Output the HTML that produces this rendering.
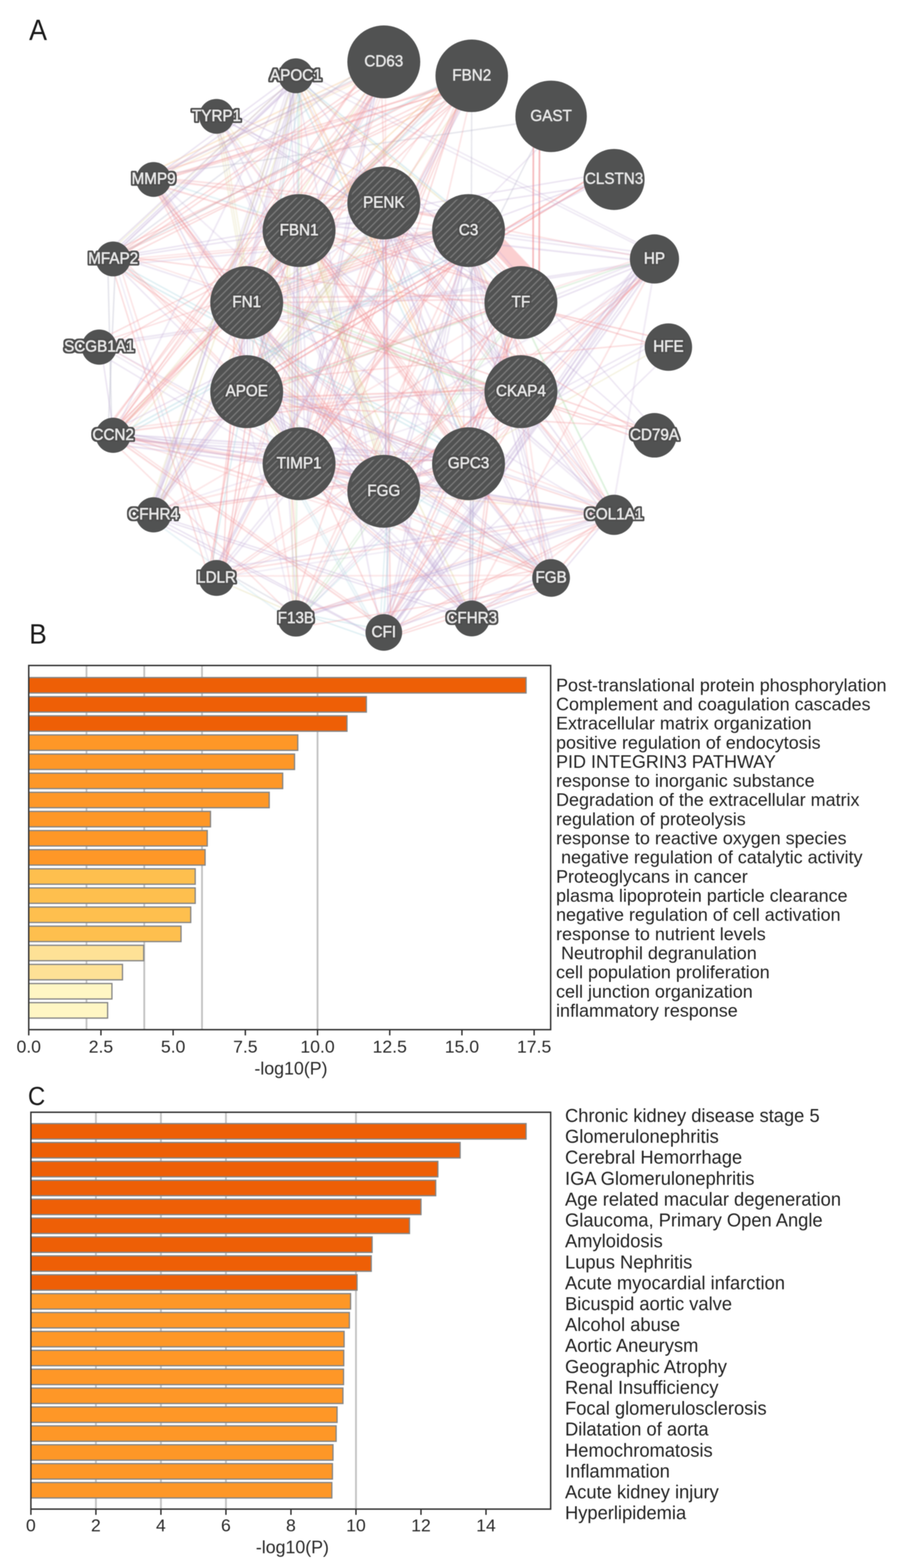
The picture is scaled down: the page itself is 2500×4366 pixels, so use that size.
<!DOCTYPE html>
<html lang="en">
<head>
<meta charset="utf-8">
<title>Figure: PPI network and enrichment analysis</title>
<style>
html,body{margin:0;padding:0;background:#fff;}
body{width:2500px;height:4366px;font-family:"Liberation Sans",sans-serif;}
#fig{position:relative;width:2500px;height:4366px;background:#fff;overflow:hidden;}
svg{position:absolute;left:0;top:0;display:block;filter:blur(1px);}
text{font-family:"Liberation Sans",sans-serif;}
.pl{font-size:77px;fill:#1a1a1a;}
.nl{font-size:43.5px;fill:#e6e6e6;stroke:#e6e6e6;stroke-width:1.25px;text-anchor:middle;}
.nli{font-size:43.5px;fill:#e6e6e6;stroke:#e6e6e6;stroke-width:1.25px;text-anchor:middle;filter:url(#ol);}
.nlo{font-size:43.5px;fill:#e6e6e6;stroke:#e6e6e6;stroke-width:1.25px;text-anchor:middle;filter:url(#ol);}
.tk{font-size:49px;fill:#2a2a2a;text-anchor:middle;}
.ax{font-size:49.5px;fill:#2a2a2a;text-anchor:middle;}
.lb{font-size:50px;fill:#222;}
.lc{font-size:51px;fill:#222;}
.bar{stroke:#858585;stroke-width:3.5px;}
.grid{stroke:#c3c3c3;stroke-width:5px;}
.frame{fill:none;stroke:#333;stroke-width:4px;}
.tick{stroke:#333;stroke-width:4px;}
</style>
</head>
<body>
<div id="fig">
<svg width="2500" height="4366" viewBox="0 0 2500 4366">
<defs>
<pattern id="hatch" width="14.5" height="14.5" patternUnits="userSpaceOnUse" patternTransform="rotate(-45)">
<rect width="14.5" height="14.5" fill="#515252"/>
<rect x="0" y="0" width="14.5" height="3.8" fill="#777777"/>
</pattern>
<filter id="ol" x="-15%" y="-35%" width="130%" height="170%">
<feMorphology in="SourceAlpha" operator="dilate" radius="3.9" result="d"/>
<feGaussianBlur in="d" stdDeviation="1.8" result="b"/>
<feComponentTransfer in="b" result="t"><feFuncA type="linear" slope="6" intercept="-1.5"/></feComponentTransfer>
<feFlood flood-color="#4d4e4e" result="f"/>
<feComposite in="f" in2="t" operator="in" result="o"/>
<feMerge><feMergeNode in="o"/><feMergeNode in="SourceGraphic"/></feMerge>
</filter>
<filter id="soft" x="-5%" y="-5%" width="110%" height="110%"><feGaussianBlur stdDeviation="0.8"/></filter>
</defs>

<g id="panelA">
<text class="pl" transform="translate(81 111.3) scale(0.925 1)" style="font-size:81px">A</text>
<g id="edges" fill="none" stroke-linecap="round" filter="url(#soft)">
<line x1="1363" y1="656" x2="1473" y2="772" stroke="#fbcfd0" stroke-width="46" stroke-opacity="1.0" stroke-linecap="butt"/>
<line x1="1040.7" y1="568.1" x2="1334.4" y2="618.9" stroke="#f08d91" stroke-width="3.6" stroke-opacity="0.27"/>
<line x1="1038.7" y1="574.2" x2="1332.9" y2="623.4" stroke="#f08d91" stroke-width="4.4" stroke-opacity="0.27"/>
<line x1="1066.5" y1="595.3" x2="1439.5" y2="1062.2" stroke="#baa2d0" stroke-width="4.4" stroke-opacity="0.27"/>
<line x1="1061.2" y1="599.1" x2="1435.2" y2="1065.3" stroke="#baa2d0" stroke-width="3.6" stroke-opacity="0.33"/>
<line x1="1055.8" y1="603" x2="1428.7" y2="1070" stroke="#baa2d0" stroke-width="4.4" stroke-opacity="0.27"/>
<line x1="1064.8" y1="568.3" x2="1312.4" y2="1273.3" stroke="#baa2d0" stroke-width="3.6" stroke-opacity="0.27"/>
<line x1="1055.3" y1="571.4" x2="1301.1" y2="1277" stroke="#baa2d0" stroke-width="4.0" stroke-opacity="0.4"/>
<line x1="1045.8" y1="574.5" x2="1290.5" y2="1280.4" stroke="#baa2d0" stroke-width="3.6" stroke-opacity="0.27"/>
<line x1="1072.1" y1="532.6" x2="1086.5" y2="1386.7" stroke="#baa2d0" stroke-width="4.0" stroke-opacity="0.33"/>
<line x1="1063.3" y1="532.6" x2="1076.2" y2="1386.7" stroke="#baa2d0" stroke-width="3.6" stroke-opacity="0.33"/>
<line x1="1096.7" y1="555.6" x2="852.4" y2="1308.8" stroke="#f08d91" stroke-width="4.4" stroke-opacity="0.33"/>
<line x1="1088.8" y1="553" x2="841.9" y2="1305.4" stroke="#f08d91" stroke-width="3.6" stroke-opacity="0.4"/>
<line x1="1081" y1="550.5" x2="836" y2="1303.4" stroke="#f08d91" stroke-width="4.0" stroke-opacity="0.27"/>
<line x1="1073.2" y1="548" x2="821.5" y2="1298.7" stroke="#f08d91" stroke-width="4.0" stroke-opacity="0.27"/>
<line x1="1097.5" y1="595.7" x2="679.8" y2="1090.9" stroke="#d9d08e" stroke-width="3.6" stroke-opacity="0.27"/>
<line x1="1091.2" y1="591.2" x2="671.1" y2="1084.6" stroke="#d9d08e" stroke-width="4.4" stroke-opacity="0.27"/>
<line x1="1084.9" y1="586.6" x2="662.7" y2="1078.5" stroke="#d9d08e" stroke-width="3.6" stroke-opacity="0.33"/>
<line x1="1075.9" y1="601.2" x2="703.5" y2="848" stroke="#baa2d0" stroke-width="3.6" stroke-opacity="0.33"/>
<line x1="1070.5" y1="593.8" x2="696.9" y2="838.9" stroke="#d9d08e" stroke-width="4.0" stroke-opacity="0.33"/>
<line x1="1064.3" y1="537.6" x2="839.8" y2="613.7" stroke="#baa2d0" stroke-width="4.0" stroke-opacity="0.4"/>
<line x1="1309.1" y1="641.7" x2="1490.9" y2="843.8" stroke="#f08d91" stroke-width="4.0" stroke-opacity="0.33"/>
<line x1="1302.4" y1="646.6" x2="1488" y2="845.9" stroke="#f08d91" stroke-width="3.6" stroke-opacity="0.27"/>
<line x1="1295.6" y1="651.5" x2="1482.5" y2="849.9" stroke="#baa2d0" stroke-width="4.4" stroke-opacity="0.27"/>
<line x1="1288.8" y1="656.4" x2="1472.7" y2="857" stroke="#f08d91" stroke-width="4.0" stroke-opacity="0.27"/>
<line x1="1282" y1="661.3" x2="1471.7" y2="857.7" stroke="#96ccd9" stroke-width="4.4" stroke-opacity="0.27"/>
<line x1="1298.5" y1="620.8" x2="1458" y2="1089.2" stroke="#d9d08e" stroke-width="3.6" stroke-opacity="0.27"/>
<line x1="1289.8" y1="623.7" x2="1448.7" y2="1092.2" stroke="#baa2d0" stroke-width="4.0" stroke-opacity="0.4"/>
<line x1="1282.6" y1="649.4" x2="1293.3" y2="1313.2" stroke="#baa2d0" stroke-width="4.0" stroke-opacity="0.27"/>
<line x1="1307.5" y1="677.8" x2="1103.4" y2="1358.7" stroke="#baa2d0" stroke-width="3.6" stroke-opacity="0.33"/>
<line x1="1298.8" y1="675" x2="1094.6" y2="1355.9" stroke="#baa2d0" stroke-width="4.4" stroke-opacity="0.33"/>
<line x1="1305.4" y1="679.5" x2="853.8" y2="1271.6" stroke="#f08d91" stroke-width="4.0" stroke-opacity="0.4"/>
<line x1="1300.1" y1="675.6" x2="852.2" y2="1270.4" stroke="#f08d91" stroke-width="4.0" stroke-opacity="0.4"/>
<line x1="1294.7" y1="671.7" x2="845.8" y2="1265.8" stroke="#f08d91" stroke-width="3.6" stroke-opacity="0.27"/>
<line x1="1289.3" y1="667.8" x2="838.5" y2="1260.5" stroke="#baa2d0" stroke-width="3.6" stroke-opacity="0.33"/>
<line x1="1291.3" y1="641.1" x2="672.6" y2="861.5" stroke="#f08d91" stroke-width="3.6" stroke-opacity="0.27"/>
<line x1="1289" y1="634.2" x2="670.6" y2="855.4" stroke="#f08d91" stroke-width="4.4" stroke-opacity="0.4"/>
<line x1="1286.7" y1="627.2" x2="668.4" y2="848.7" stroke="#f08d91" stroke-width="4.4" stroke-opacity="0.27"/>
<line x1="1284.5" y1="620.3" x2="666.1" y2="841.6" stroke="#f08d91" stroke-width="3.6" stroke-opacity="0.33"/>
<line x1="1282.2" y1="613.4" x2="665.5" y2="839.7" stroke="#96ccd9" stroke-width="3.6" stroke-opacity="0.33"/>
<line x1="1305.7" y1="645.9" x2="852.8" y2="614" stroke="#baa2d0" stroke-width="4.0" stroke-opacity="0.27"/>
<line x1="1467.2" y1="824.3" x2="1298.2" y2="1295" stroke="#f08d91" stroke-width="3.6" stroke-opacity="0.4"/>
<line x1="1457.7" y1="821.2" x2="1288.5" y2="1291.8" stroke="#f08d91" stroke-width="4.0" stroke-opacity="0.4"/>
<line x1="1448.2" y1="818.1" x2="1279.5" y2="1288.9" stroke="#f08d91" stroke-width="4.0" stroke-opacity="0.27"/>
<line x1="1436" y1="815.3" x2="1083.3" y2="1390.1" stroke="#f08d91" stroke-width="4.4" stroke-opacity="0.4"/>
<line x1="1427.5" y1="809.2" x2="1074.7" y2="1383.8" stroke="#f08d91" stroke-width="4.0" stroke-opacity="0.27"/>
<line x1="1449.3" y1="877.4" x2="856.2" y2="1267.2" stroke="#f08d91" stroke-width="4.0" stroke-opacity="0.33"/>
<line x1="1441.9" y1="834.8" x2="685.1" y2="1108.9" stroke="#f08d91" stroke-width="4.0" stroke-opacity="0.4"/>
<line x1="1439.4" y1="827.3" x2="682.2" y2="1099.7" stroke="#f08d91" stroke-width="3.6" stroke-opacity="0.27"/>
<line x1="1470" y1="831.6" x2="660.5" y2="844" stroke="#f08d91" stroke-width="4.0" stroke-opacity="0.33"/>
<line x1="1470" y1="821" x2="660.5" y2="829.6" stroke="#f08d91" stroke-width="4.4" stroke-opacity="0.33"/>
<line x1="1471.4" y1="820.1" x2="860.7" y2="625.5" stroke="#f08d91" stroke-width="4.0" stroke-opacity="0.27"/>
<line x1="1480.2" y1="1090.4" x2="1296.3" y2="1297.4" stroke="#f08d91" stroke-width="3.6" stroke-opacity="0.27"/>
<line x1="1471.6" y1="1084.2" x2="1289.8" y2="1292.7" stroke="#f08d91" stroke-width="3.6" stroke-opacity="0.27"/>
<line x1="1439.3" y1="1080.2" x2="1088.6" y2="1355.3" stroke="#f08d91" stroke-width="4.0" stroke-opacity="0.27"/>
<line x1="1434.3" y1="1073.3" x2="1085.6" y2="1351.2" stroke="#f08d91" stroke-width="4.4" stroke-opacity="0.4"/>
<line x1="1472.8" y1="1089.8" x2="686.5" y2="1118.4" stroke="#baa2d0" stroke-width="4.4" stroke-opacity="0.27"/>
<line x1="1472.8" y1="1081.8" x2="686.5" y2="1109.1" stroke="#f08d91" stroke-width="4.4" stroke-opacity="0.4"/>
<line x1="1456.2" y1="1126.5" x2="679.4" y2="818.8" stroke="#96d296" stroke-width="4.4" stroke-opacity="0.4"/>
<line x1="1459.1" y1="1117.6" x2="681.9" y2="811" stroke="#baa2d0" stroke-width="3.6" stroke-opacity="0.27"/>
<line x1="1462" y1="1108.7" x2="683.4" y2="806.5" stroke="#96d296" stroke-width="4.0" stroke-opacity="0.33"/>
<line x1="1332.5" y1="1274.3" x2="1046.7" y2="1358.6" stroke="#f08d91" stroke-width="4.4" stroke-opacity="0.27"/>
<line x1="1330.6" y1="1268.2" x2="1044.7" y2="1352.3" stroke="#f08d91" stroke-width="3.6" stroke-opacity="0.33"/>
<line x1="1290.5" y1="1277.2" x2="838.7" y2="1299" stroke="#f08d91" stroke-width="4.4" stroke-opacity="0.4"/>
<line x1="1290.5" y1="1267.4" x2="838.7" y2="1289.3" stroke="#f08d91" stroke-width="4.0" stroke-opacity="0.27"/>
<line x1="1310.8" y1="1316.1" x2="706.3" y2="1073.2" stroke="#baa2d0" stroke-width="3.6" stroke-opacity="0.4"/>
<line x1="1313.4" y1="1307.9" x2="709" y2="1065" stroke="#baa2d0" stroke-width="4.4" stroke-opacity="0.4"/>
<line x1="1316.1" y1="1299.7" x2="710.5" y2="1060.5" stroke="#f08d91" stroke-width="4.4" stroke-opacity="0.33"/>
<line x1="1308.6" y1="1303.8" x2="839.1" y2="645.8" stroke="#f08d91" stroke-width="4.4" stroke-opacity="0.4"/>
<line x1="1313.5" y1="1300.2" x2="845.5" y2="641.2" stroke="#f08d91" stroke-width="4.4" stroke-opacity="0.4"/>
<line x1="1318.3" y1="1296.7" x2="851.8" y2="636.6" stroke="#f08d91" stroke-width="4.0" stroke-opacity="0.27"/>
<line x1="1078.2" y1="1368" x2="860.7" y2="1279.5" stroke="#f08d91" stroke-width="3.6" stroke-opacity="0.27"/>
<line x1="1080.1" y1="1362.1" x2="862.6" y2="1273.7" stroke="#f08d91" stroke-width="4.4" stroke-opacity="0.4"/>
<line x1="1031.8" y1="1359.1" x2="694.7" y2="1110.3" stroke="#baa2d0" stroke-width="4.4" stroke-opacity="0.33"/>
<line x1="1037.3" y1="1351.5" x2="699.1" y2="1104.3" stroke="#baa2d0" stroke-width="3.6" stroke-opacity="0.4"/>
<line x1="1042.8" y1="1343.9" x2="707.2" y2="1093" stroke="#baa2d0" stroke-width="4.0" stroke-opacity="0.27"/>
<line x1="1064.9" y1="1351.5" x2="666.3" y2="848.4" stroke="#f2b876" stroke-width="4.0" stroke-opacity="0.27"/>
<line x1="1074.2" y1="1351.7" x2="856.5" y2="642.4" stroke="#d9d08e" stroke-width="4.0" stroke-opacity="0.4"/>
<line x1="1080" y1="1349.8" x2="858.5" y2="641.7" stroke="#d9d08e" stroke-width="3.6" stroke-opacity="0.33"/>
<line x1="1085.9" y1="1347.9" x2="863.3" y2="640.2" stroke="#d9d08e" stroke-width="4.0" stroke-opacity="0.27"/>
<line x1="1091.7" y1="1346" x2="868.2" y2="638.6" stroke="#d9d08e" stroke-width="4.0" stroke-opacity="0.27"/>
<line x1="814.4" y1="1284.6" x2="690.6" y2="1082.6" stroke="#d9d08e" stroke-width="3.6" stroke-opacity="0.33"/>
<line x1="821" y1="1279.8" x2="697.6" y2="1077.5" stroke="#d9d08e" stroke-width="4.0" stroke-opacity="0.4"/>
<line x1="816.6" y1="1311.6" x2="703.4" y2="838.7" stroke="#baa2d0" stroke-width="4.0" stroke-opacity="0.4"/>
<line x1="822.4" y1="1309.7" x2="710.7" y2="836.3" stroke="#baa2d0" stroke-width="3.6" stroke-opacity="0.4"/>
<line x1="809.9" y1="1259.2" x2="821.4" y2="630.8" stroke="#baa2d0" stroke-width="4.4" stroke-opacity="0.33"/>
<line x1="817.4" y1="1259.2" x2="830.6" y2="630.8" stroke="#baa2d0" stroke-width="4.0" stroke-opacity="0.4"/>
<line x1="824.9" y1="1259.2" x2="839.2" y2="630.8" stroke="#f08d91" stroke-width="3.6" stroke-opacity="0.27"/>
<line x1="668.9" y1="1065" x2="664.7" y2="813.5" stroke="#baa2d0" stroke-width="4.4" stroke-opacity="0.27"/>
<line x1="676.1" y1="1065" x2="669" y2="813.5" stroke="#baa2d0" stroke-width="4.4" stroke-opacity="0.27"/>
<line x1="683.3" y1="1065" x2="675.6" y2="813.5" stroke="#baa2d0" stroke-width="3.6" stroke-opacity="0.33"/>
<line x1="690.5" y1="1065" x2="686.2" y2="813.5" stroke="#baa2d0" stroke-width="3.6" stroke-opacity="0.4"/>
<line x1="697.7" y1="1065" x2="691.9" y2="813.5" stroke="#baa2d0" stroke-width="3.6" stroke-opacity="0.27"/>
<line x1="692" y1="1084.1" x2="816" y2="663.2" stroke="#f08d91" stroke-width="4.0" stroke-opacity="0.4"/>
<line x1="702.4" y1="1087.4" x2="824.4" y2="665.9" stroke="#f2b876" stroke-width="3.6" stroke-opacity="0.33"/>
<line x1="673.6" y1="831" x2="836.6" y2="610.6" stroke="#f08d91" stroke-width="3.6" stroke-opacity="0.4"/>
<line x1="679.1" y1="835" x2="849.5" y2="620" stroke="#d9d08e" stroke-width="3.6" stroke-opacity="0.27"/>
<line x1="684.6" y1="839" x2="852.7" y2="622.3" stroke="#f08d91" stroke-width="4.4" stroke-opacity="0.4"/>
<line x1="690" y1="842.9" x2="856.2" y2="624.8" stroke="#f08d91" stroke-width="4.0" stroke-opacity="0.4"/>
<line x1="695.5" y1="846.9" x2="859" y2="626.9" stroke="#baa2d0" stroke-width="4.4" stroke-opacity="0.4"/>
<line x1="823.6" y1="1728.3" x2="1298.7" y2="1274" stroke="#96ccd9" stroke-width="3.6" stroke-opacity="0.28"/>
<line x1="813.8" y1="1731.8" x2="1798.1" y2="717.8" stroke="#baa2d0" stroke-width="3.6" stroke-opacity="0.23"/>
<line x1="818.8" y1="1736.8" x2="1803.2" y2="722.8" stroke="#baa2d0" stroke-width="4.0" stroke-opacity="0.23"/>
<line x1="817.8" y1="1736.6" x2="798.2" y2="648.7" stroke="#d9d08e" stroke-width="3.6" stroke-opacity="0.34"/>
<line x1="828.4" y1="1736.7" x2="804" y2="648.7" stroke="#d9d08e" stroke-width="3.6" stroke-opacity="0.23"/>
<line x1="835.7" y1="1713.8" x2="1459.2" y2="832.1" stroke="#96d296" stroke-width="3.6" stroke-opacity="0.23"/>
<line x1="842.1" y1="1718.4" x2="1464.3" y2="835.7" stroke="#96d296" stroke-width="4.0" stroke-opacity="0.28"/>
<line x1="816.9" y1="1732.9" x2="413.4" y2="1440.6" stroke="#96ccd9" stroke-width="4.0" stroke-opacity="0.23"/>
<line x1="816.1" y1="1731.2" x2="1328" y2="621.9" stroke="#f08d91" stroke-width="4.0" stroke-opacity="0.28"/>
<line x1="825" y1="1735.1" x2="1340.7" y2="627.6" stroke="#f08d91" stroke-width="4.4" stroke-opacity="0.23"/>
<line x1="827.3" y1="1725.4" x2="799.4" y2="1306.5" stroke="#baa2d0" stroke-width="4.0" stroke-opacity="0.28"/>
<line x1="835.7" y1="1725.6" x2="808.9" y2="1306.7" stroke="#f08d91" stroke-width="3.6" stroke-opacity="0.34"/>
<line x1="817.3" y1="1717.2" x2="304.6" y2="1220.8" stroke="#f08d91" stroke-width="3.6" stroke-opacity="0.28"/>
<line x1="823.6" y1="1729.5" x2="683.1" y2="823.7" stroke="#f08d91" stroke-width="4.4" stroke-opacity="0.23"/>
<line x1="815.9" y1="1713.9" x2="669.4" y2="1073.6" stroke="#baa2d0" stroke-width="3.6" stroke-opacity="0.23"/>
<line x1="823.9" y1="1712.6" x2="834.1" y2="216.3" stroke="#96d296" stroke-width="4.0" stroke-opacity="0.23"/>
<line x1="806.8" y1="1722.6" x2="1721.3" y2="1418.5" stroke="#f08d91" stroke-width="3.6" stroke-opacity="0.28"/>
<line x1="808.8" y1="1728.7" x2="1722.8" y2="1423.1" stroke="#baa2d0" stroke-width="4.4" stroke-opacity="0.34"/>
<line x1="274" y1="950.4" x2="814.2" y2="1269.4" stroke="#f08d91" stroke-width="3.6" stroke-opacity="0.23"/>
<line x1="269.4" y1="958.2" x2="809" y2="1278.2" stroke="#baa2d0" stroke-width="3.6" stroke-opacity="0.23"/>
<line x1="262" y1="959.8" x2="1824.1" y2="725.7" stroke="#baa2d0" stroke-width="4.4" stroke-opacity="0.28"/>
<line x1="263" y1="966.2" x2="1824.8" y2="730.3" stroke="#baa2d0" stroke-width="4.0" stroke-opacity="0.28"/>
<line x1="603.6" y1="304.9" x2="854.9" y2="661" stroke="#d9d08e" stroke-width="4.0" stroke-opacity="0.23"/>
<line x1="596.1" y1="310.3" x2="849.3" y2="665.1" stroke="#baa2d0" stroke-width="3.6" stroke-opacity="0.28"/>
<line x1="589.3" y1="324.4" x2="1081.8" y2="1395.5" stroke="#baa2d0" stroke-width="4.0" stroke-opacity="0.34"/>
<line x1="583.4" y1="327" x2="1076.6" y2="1397.9" stroke="#baa2d0" stroke-width="4.0" stroke-opacity="0.23"/>
<line x1="602.5" y1="334.3" x2="1338.2" y2="1290" stroke="#f08d91" stroke-width="4.0" stroke-opacity="0.23"/>
<line x1="614.5" y1="334.9" x2="702.1" y2="849.7" stroke="#d9d08e" stroke-width="4.4" stroke-opacity="0.23"/>
<line x1="607.6" y1="336" x2="695.4" y2="850.7" stroke="#d9d08e" stroke-width="3.6" stroke-opacity="0.28"/>
<line x1="600.7" y1="337.1" x2="691" y2="851.5" stroke="#d9d08e" stroke-width="4.4" stroke-opacity="0.23"/>
<line x1="608.5" y1="317.9" x2="1309.5" y2="1720.6" stroke="#baa2d0" stroke-width="4.4" stroke-opacity="0.28"/>
<line x1="1324.6" y1="207.3" x2="1064.1" y2="1334" stroke="#f08d91" stroke-width="3.6" stroke-opacity="0.28"/>
<line x1="1309.8" y1="184" x2="680.4" y2="836.6" stroke="#96ccd9" stroke-width="4.4" stroke-opacity="0.23"/>
<line x1="1302.7" y1="177" x2="674.6" y2="830.8" stroke="#96ccd9" stroke-width="4.4" stroke-opacity="0.28"/>
<line x1="1324.1" y1="231.2" x2="694.9" y2="1104.3" stroke="#d9d08e" stroke-width="4.0" stroke-opacity="0.28"/>
<line x1="1293.6" y1="234.6" x2="840.5" y2="624.3" stroke="#96ccd9" stroke-width="4.0" stroke-opacity="0.23"/>
<line x1="1320" y1="201.1" x2="853.4" y2="1322.9" stroke="#f08d91" stroke-width="3.6" stroke-opacity="0.34"/>
<line x1="1313.8" y1="198.3" x2="845.4" y2="1319.4" stroke="#f08d91" stroke-width="4.0" stroke-opacity="0.34"/>
<line x1="1307.5" y1="195.5" x2="838" y2="1316" stroke="#f08d91" stroke-width="3.6" stroke-opacity="0.28"/>
<line x1="1314.5" y1="197.7" x2="1085.1" y2="582.9" stroke="#f08d91" stroke-width="4.4" stroke-opacity="0.28"/>
<line x1="1288.7" y1="204.1" x2="307.8" y2="1217.2" stroke="#f08d91" stroke-width="4.4" stroke-opacity="0.28"/>
<line x1="1282.3" y1="197.8" x2="303.9" y2="1213.3" stroke="#f08d91" stroke-width="3.6" stroke-opacity="0.34"/>
<line x1="1306.4" y1="194.4" x2="317.1" y2="716" stroke="#96ccd9" stroke-width="4.4" stroke-opacity="0.34"/>
<line x1="1306.7" y1="192.5" x2="806.4" y2="1723.9" stroke="#f08d91" stroke-width="3.6" stroke-opacity="0.34"/>
<line x1="1333.6" y1="209.3" x2="594.9" y2="1596.3" stroke="#baa2d0" stroke-width="4.0" stroke-opacity="0.34"/>
<line x1="1327.2" y1="206.1" x2="591.4" y2="1594.6" stroke="#baa2d0" stroke-width="4.4" stroke-opacity="0.34"/>
<line x1="1299.7" y1="190.7" x2="431.7" y2="1419.1" stroke="#f08d91" stroke-width="3.6" stroke-opacity="0.23"/>
<line x1="1280.9" y1="224.7" x2="432.1" y2="506.4" stroke="#f08d91" stroke-width="4.4" stroke-opacity="0.28"/>
<line x1="1314.7" y1="1723.2" x2="657.3" y2="852.8" stroke="#baa2d0" stroke-width="4.0" stroke-opacity="0.34"/>
<line x1="1321.2" y1="1718.5" x2="665.5" y2="847.1" stroke="#baa2d0" stroke-width="4.0" stroke-opacity="0.23"/>
<line x1="1314" y1="1725.3" x2="815.4" y2="1304.8" stroke="#baa2d0" stroke-width="4.0" stroke-opacity="0.34"/>
<line x1="1318.3" y1="1720.5" x2="819.3" y2="1300.4" stroke="#f08d91" stroke-width="4.0" stroke-opacity="0.28"/>
<line x1="1322.6" y1="1715.7" x2="825.2" y2="1293.8" stroke="#baa2d0" stroke-width="4.4" stroke-opacity="0.34"/>
<line x1="1304.6" y1="1712.2" x2="1047.2" y2="1357.1" stroke="#baa2d0" stroke-width="3.6" stroke-opacity="0.34"/>
<line x1="1314.1" y1="1719" x2="1317.5" y2="1283.6" stroke="#96ccd9" stroke-width="4.4" stroke-opacity="0.28"/>
<line x1="1306.8" y1="1719.4" x2="1315.8" y2="631.5" stroke="#baa2d0" stroke-width="4.4" stroke-opacity="0.28"/>
<line x1="1314.1" y1="1719.3" x2="1323.2" y2="631.4" stroke="#baa2d0" stroke-width="4.0" stroke-opacity="0.28"/>
<line x1="1312.3" y1="1724.3" x2="310" y2="725.8" stroke="#baa2d0" stroke-width="4.0" stroke-opacity="0.28"/>
<line x1="1323.3" y1="1712.7" x2="701.3" y2="1103.9" stroke="#baa2d0" stroke-width="4.0" stroke-opacity="0.23"/>
<line x1="1308.9" y1="1725.8" x2="1423.2" y2="828.3" stroke="#f08d91" stroke-width="4.4" stroke-opacity="0.28"/>
<line x1="1316.7" y1="1727" x2="1430.7" y2="829.4" stroke="#f08d91" stroke-width="4.4" stroke-opacity="0.34"/>
<line x1="1298.4" y1="1714.9" x2="1827.2" y2="724.9" stroke="#f08d91" stroke-width="4.0" stroke-opacity="0.28"/>
<line x1="1323.4" y1="1734" x2="811.1" y2="655.6" stroke="#d9d08e" stroke-width="4.0" stroke-opacity="0.34"/>
<line x1="1323.9" y1="1731.8" x2="414.4" y2="491.5" stroke="#baa2d0" stroke-width="3.6" stroke-opacity="0.28"/>
<line x1="1331.2" y1="1726.5" x2="422.8" y2="485.5" stroke="#baa2d0" stroke-width="4.4" stroke-opacity="0.28"/>
<line x1="1831.4" y1="708.7" x2="677.4" y2="1102.6" stroke="#96d296" stroke-width="4.4" stroke-opacity="0.28"/>
<line x1="1829.5" y1="702.9" x2="676" y2="1098.2" stroke="#f08d91" stroke-width="3.6" stroke-opacity="0.23"/>
<line x1="1838.6" y1="719.6" x2="1302" y2="647.2" stroke="#baa2d0" stroke-width="4.0" stroke-opacity="0.28"/>
<line x1="1840.1" y1="709.8" x2="1303.4" y2="638.6" stroke="#baa2d0" stroke-width="4.0" stroke-opacity="0.28"/>
<line x1="1812.6" y1="726.2" x2="1485.2" y2="857.5" stroke="#baa2d0" stroke-width="4.0" stroke-opacity="0.34"/>
<line x1="1809.5" y1="716.7" x2="1482.2" y2="848.4" stroke="#baa2d0" stroke-width="4.4" stroke-opacity="0.23"/>
<line x1="1808" y1="717" x2="1093.2" y2="1771.9" stroke="#baa2d0" stroke-width="4.4" stroke-opacity="0.34"/>
<line x1="1800.4" y1="711.5" x2="1083.5" y2="1764.9" stroke="#baa2d0" stroke-width="4.4" stroke-opacity="0.34"/>
<line x1="1792.9" y1="706.1" x2="1079.5" y2="1761.9" stroke="#baa2d0" stroke-width="4.4" stroke-opacity="0.28"/>
<line x1="1835.2" y1="741" x2="1079.6" y2="1358.6" stroke="#f08d91" stroke-width="4.4" stroke-opacity="0.34"/>
<line x1="1828.2" y1="727.9" x2="1483.6" y2="1094.5" stroke="#f08d91" stroke-width="4.0" stroke-opacity="0.34"/>
<line x1="1822.2" y1="721.8" x2="1476" y2="1086.8" stroke="#baa2d0" stroke-width="4.4" stroke-opacity="0.34"/>
<line x1="1802.9" y1="728" x2="812.2" y2="617.2" stroke="#baa2d0" stroke-width="4.4" stroke-opacity="0.34"/>
<line x1="1803.9" y1="719.8" x2="1052.5" y2="570.2" stroke="#f08d91" stroke-width="3.6" stroke-opacity="0.28"/>
<line x1="1828.2" y1="731.1" x2="829.8" y2="1322" stroke="#baa2d0" stroke-width="4.4" stroke-opacity="0.23"/>
<line x1="1827.7" y1="715.8" x2="1702.1" y2="1437.5" stroke="#baa2d0" stroke-width="4.4" stroke-opacity="0.23"/>
<line x1="1836.3" y1="714.6" x2="1314.7" y2="1300.5" stroke="#f08d91" stroke-width="4.0" stroke-opacity="0.28"/>
<line x1="1829.3" y1="747.1" x2="616.5" y2="1615.7" stroke="#f08d91" stroke-width="3.6" stroke-opacity="0.28"/>
<line x1="1824.9" y1="741" x2="612.4" y2="1610.2" stroke="#f08d91" stroke-width="3.6" stroke-opacity="0.28"/>
<line x1="307.1" y1="709.5" x2="1480" y2="861.3" stroke="#f08d91" stroke-width="3.6" stroke-opacity="0.34"/>
<line x1="304.8" y1="702.1" x2="819.3" y2="215" stroke="#d9d08e" stroke-width="3.6" stroke-opacity="0.28"/>
<line x1="309.8" y1="707" x2="825.5" y2="221.2" stroke="#baa2d0" stroke-width="4.0" stroke-opacity="0.34"/>
<line x1="314.7" y1="712" x2="828.4" y2="224.1" stroke="#baa2d0" stroke-width="4.0" stroke-opacity="0.23"/>
<line x1="306.3" y1="725.4" x2="1291.3" y2="637.4" stroke="#f08d91" stroke-width="3.6" stroke-opacity="0.23"/>
<line x1="306.8" y1="732.4" x2="1291.7" y2="642.4" stroke="#f08d91" stroke-width="4.0" stroke-opacity="0.28"/>
<line x1="307.4" y1="739.4" x2="1292.5" y2="652.3" stroke="#baa2d0" stroke-width="4.0" stroke-opacity="0.28"/>
<line x1="326.1" y1="705.4" x2="694.4" y2="829.4" stroke="#f08d91" stroke-width="3.6" stroke-opacity="0.23"/>
<line x1="323.4" y1="713.5" x2="692.3" y2="835.9" stroke="#baa2d0" stroke-width="4.0" stroke-opacity="0.28"/>
<line x1="302.4" y1="718.4" x2="1334.5" y2="1281.7" stroke="#96ccd9" stroke-width="3.6" stroke-opacity="0.34"/>
<line x1="297.1" y1="727.7" x2="1329.1" y2="1291" stroke="#96ccd9" stroke-width="4.0" stroke-opacity="0.34"/>
<line x1="323.2" y1="706.3" x2="608.3" y2="1599.6" stroke="#f08d91" stroke-width="3.6" stroke-opacity="0.28"/>
<line x1="313.2" y1="709.6" x2="594.3" y2="1604.1" stroke="#baa2d0" stroke-width="3.6" stroke-opacity="0.23"/>
<line x1="303.2" y1="712.8" x2="581.7" y2="1608.2" stroke="#f08d91" stroke-width="3.6" stroke-opacity="0.34"/>
<line x1="326.1" y1="705.4" x2="676.6" y2="1071" stroke="#f08d91" stroke-width="3.6" stroke-opacity="0.28"/>
<line x1="321.4" y1="710.1" x2="672.8" y2="1074.9" stroke="#f08d91" stroke-width="4.4" stroke-opacity="0.23"/>
<line x1="431.5" y1="495.4" x2="1322.1" y2="1311" stroke="#baa2d0" stroke-width="4.0" stroke-opacity="0.23"/>
<line x1="422.8" y1="484.4" x2="826" y2="1277.8" stroke="#baa2d0" stroke-width="4.0" stroke-opacity="0.34"/>
<line x1="414.2" y1="488.8" x2="820.3" y2="1280.8" stroke="#f08d91" stroke-width="4.0" stroke-opacity="0.28"/>
<line x1="439" y1="494" x2="1280.8" y2="641.3" stroke="#f08d91" stroke-width="3.6" stroke-opacity="0.23"/>
<line x1="442" y1="501.7" x2="827.8" y2="625" stroke="#96ccd9" stroke-width="4.0" stroke-opacity="0.28"/>
<line x1="432.7" y1="493.6" x2="1069.6" y2="560.8" stroke="#f08d91" stroke-width="4.4" stroke-opacity="0.28"/>
<line x1="431.8" y1="501.8" x2="1068.7" y2="569.9" stroke="#f08d91" stroke-width="4.0" stroke-opacity="0.23"/>
<line x1="416.7" y1="508.8" x2="1465.2" y2="821" stroke="#f08d91" stroke-width="4.4" stroke-opacity="0.34"/>
<line x1="418.2" y1="503.2" x2="1079.2" y2="1344.9" stroke="#f08d91" stroke-width="4.4" stroke-opacity="0.34"/>
<line x1="412.2" y1="507.7" x2="1073.6" y2="1349" stroke="#f08d91" stroke-width="3.6" stroke-opacity="0.34"/>
<line x1="436.2" y1="511.8" x2="660.2" y2="834.3" stroke="#f08d91" stroke-width="4.4" stroke-opacity="0.28"/>
<line x1="428.3" y1="517.8" x2="653.6" y2="839.3" stroke="#f08d91" stroke-width="4.0" stroke-opacity="0.23"/>
<line x1="408.2" y1="485.4" x2="1044.2" y2="183.6" stroke="#f2b876" stroke-width="4.0" stroke-opacity="0.34"/>
<line x1="413" y1="494.8" x2="1050.4" y2="195.6" stroke="#f08d91" stroke-width="4.4" stroke-opacity="0.28"/>
<line x1="417.8" y1="504.2" x2="1052.9" y2="200.6" stroke="#f2b876" stroke-width="4.4" stroke-opacity="0.23"/>
<line x1="594.1" y1="1620.4" x2="1327.4" y2="189.5" stroke="#f08d91" stroke-width="4.4" stroke-opacity="0.28"/>
<line x1="614.2" y1="1613.5" x2="1303" y2="1289.2" stroke="#f08d91" stroke-width="4.0" stroke-opacity="0.23"/>
<line x1="617.3" y1="1620.3" x2="1305" y2="1293.8" stroke="#f08d91" stroke-width="3.6" stroke-opacity="0.23"/>
<line x1="595.7" y1="1604.2" x2="852.1" y2="1289.7" stroke="#baa2d0" stroke-width="4.0" stroke-opacity="0.28"/>
<line x1="602.1" y1="1608.8" x2="861.1" y2="1296.2" stroke="#baa2d0" stroke-width="4.4" stroke-opacity="0.28"/>
<line x1="318.2" y1="1216.4" x2="644.2" y2="832.8" stroke="#d9d08e" stroke-width="3.6" stroke-opacity="0.28"/>
<line x1="325.8" y1="1224" x2="655.1" y2="843.8" stroke="#f08d91" stroke-width="3.6" stroke-opacity="0.23"/>
<line x1="333.4" y1="1231.7" x2="660.5" y2="849.2" stroke="#d9d08e" stroke-width="4.4" stroke-opacity="0.23"/>
<line x1="327.4" y1="1212.1" x2="1325" y2="666.8" stroke="#96ccd9" stroke-width="4.4" stroke-opacity="0.34"/>
<line x1="332.6" y1="1221.2" x2="1329.4" y2="674.6" stroke="#96ccd9" stroke-width="4.0" stroke-opacity="0.34"/>
<line x1="315.7" y1="1209.8" x2="1100.5" y2="1352.8" stroke="#baa2d0" stroke-width="3.6" stroke-opacity="0.23"/>
<line x1="319.6" y1="1216.6" x2="830.6" y2="1277.5" stroke="#baa2d0" stroke-width="4.4" stroke-opacity="0.28"/>
<line x1="318.1" y1="1226.9" x2="828.4" y2="1292.1" stroke="#baa2d0" stroke-width="4.4" stroke-opacity="0.34"/>
<line x1="316.5" y1="1237.2" x2="826.9" y2="1301.9" stroke="#baa2d0" stroke-width="4.4" stroke-opacity="0.34"/>
<line x1="317.2" y1="1208.8" x2="1302.6" y2="1272.6" stroke="#baa2d0" stroke-width="4.4" stroke-opacity="0.34"/>
<line x1="316.6" y1="1216" x2="1302.2" y2="1277.8" stroke="#baa2d0" stroke-width="3.6" stroke-opacity="0.28"/>
<line x1="316.1" y1="1223.1" x2="1301.3" y2="1288.2" stroke="#baa2d0" stroke-width="4.0" stroke-opacity="0.34"/>
<line x1="323.9" y1="1196.4" x2="1445.5" y2="1055.8" stroke="#f08d91" stroke-width="4.4" stroke-opacity="0.23"/>
<line x1="324.7" y1="1204.3" x2="1446.5" y2="1065.4" stroke="#f08d91" stroke-width="4.4" stroke-opacity="0.34"/>
<line x1="309.9" y1="1218.1" x2="840.9" y2="666.8" stroke="#f08d91" stroke-width="4.4" stroke-opacity="0.34"/>
<line x1="1080.7" y1="183.1" x2="849.7" y2="637.1" stroke="#f08d91" stroke-width="4.4" stroke-opacity="0.34"/>
<line x1="1074.9" y1="180.1" x2="844.5" y2="634.5" stroke="#f08d91" stroke-width="4.4" stroke-opacity="0.23"/>
<line x1="1063.6" y1="169.6" x2="832.9" y2="1307.8" stroke="#baa2d0" stroke-width="4.4" stroke-opacity="0.34"/>
<line x1="1056.3" y1="168" x2="826.6" y2="1306.5" stroke="#baa2d0" stroke-width="4.4" stroke-opacity="0.28"/>
<line x1="1049.5" y1="195.1" x2="674.8" y2="1123.9" stroke="#baa2d0" stroke-width="4.0" stroke-opacity="0.23"/>
<line x1="1075.4" y1="209.7" x2="431.9" y2="1436" stroke="#baa2d0" stroke-width="4.0" stroke-opacity="0.23"/>
<line x1="1067" y1="205.5" x2="424.5" y2="1432.3" stroke="#baa2d0" stroke-width="3.6" stroke-opacity="0.34"/>
<line x1="1059.6" y1="165.2" x2="1072.9" y2="570.6" stroke="#f08d91" stroke-width="4.0" stroke-opacity="0.28"/>
<line x1="1080.1" y1="200" x2="676" y2="836.8" stroke="#f08d91" stroke-width="4.4" stroke-opacity="0.23"/>
<line x1="1070.6" y1="194.6" x2="663.4" y2="829.7" stroke="#f08d91" stroke-width="4.4" stroke-opacity="0.28"/>
<line x1="1061.2" y1="189.3" x2="654.7" y2="824.7" stroke="#d9d08e" stroke-width="3.6" stroke-opacity="0.34"/>
<line x1="1073.1" y1="144.3" x2="1073.5" y2="1377.2" stroke="#f08d91" stroke-width="3.6" stroke-opacity="0.23"/>
<line x1="1090.9" y1="178" x2="607" y2="1598" stroke="#f08d91" stroke-width="3.6" stroke-opacity="0.23"/>
<line x1="1084.3" y1="175.9" x2="599.9" y2="1595.7" stroke="#f08d91" stroke-width="3.6" stroke-opacity="0.23"/>
<line x1="1077.3" y1="138.1" x2="305.5" y2="717.6" stroke="#a9a9c0" stroke-width="3.6" stroke-opacity="0.34"/>
<line x1="1090.8" y1="198" x2="310.6" y2="1204.9" stroke="#f08d91" stroke-width="4.0" stroke-opacity="0.34"/>
<line x1="1082.3" y1="191.8" x2="305.8" y2="1201.4" stroke="#f08d91" stroke-width="3.6" stroke-opacity="0.23"/>
<line x1="1073.9" y1="185.7" x2="294.6" y2="1193.3" stroke="#f08d91" stroke-width="4.0" stroke-opacity="0.28"/>
<line x1="415.5" y1="1431.8" x2="1062.1" y2="594.4" stroke="#baa2d0" stroke-width="4.4" stroke-opacity="0.23"/>
<line x1="421.8" y1="1436.4" x2="1066.9" y2="598" stroke="#baa2d0" stroke-width="4.4" stroke-opacity="0.23"/>
<line x1="424.3" y1="1423.5" x2="1067.5" y2="1335.5" stroke="#baa2d0" stroke-width="3.6" stroke-opacity="0.34"/>
<line x1="425.6" y1="1435.9" x2="1435.2" y2="846.7" stroke="#f08d91" stroke-width="4.0" stroke-opacity="0.23"/>
<line x1="410.6" y1="1430.5" x2="680.4" y2="1067.2" stroke="#baa2d0" stroke-width="3.6" stroke-opacity="0.34"/>
<line x1="417.6" y1="1435.8" x2="686" y2="1071.5" stroke="#baa2d0" stroke-width="4.4" stroke-opacity="0.34"/>
<line x1="423.9" y1="1421.4" x2="823.2" y2="1324.1" stroke="#f08d91" stroke-width="4.4" stroke-opacity="0.23"/>
<line x1="412.5" y1="1443.3" x2="813.9" y2="205.4" stroke="#baa2d0" stroke-width="4.0" stroke-opacity="0.23"/>
<line x1="420.9" y1="1446" x2="820.1" y2="207.4" stroke="#baa2d0" stroke-width="4.4" stroke-opacity="0.34"/>
<line x1="427.5" y1="1421.8" x2="1435.9" y2="1096.4" stroke="#baa2d0" stroke-width="3.6" stroke-opacity="0.23"/>
<line x1="411.3" y1="1428.5" x2="1281.8" y2="1303.1" stroke="#f08d91" stroke-width="4.4" stroke-opacity="0.28"/>
<line x1="412.2" y1="1434.4" x2="1282.7" y2="1308.8" stroke="#f08d91" stroke-width="3.6" stroke-opacity="0.34"/>
<line x1="416" y1="1426.5" x2="682.8" y2="847.1" stroke="#baa2d0" stroke-width="3.6" stroke-opacity="0.34"/>
<line x1="431.6" y1="1444.2" x2="801.4" y2="654.5" stroke="#f2b876" stroke-width="4.4" stroke-opacity="0.28"/>
<line x1="1721.4" y1="1437.4" x2="839.2" y2="669.9" stroke="#baa2d0" stroke-width="4.4" stroke-opacity="0.23"/>
<line x1="1726.2" y1="1432.1" x2="844.7" y2="663.8" stroke="#baa2d0" stroke-width="4.4" stroke-opacity="0.34"/>
<line x1="1705.4" y1="1418.4" x2="1307.8" y2="1263.7" stroke="#f08d91" stroke-width="3.6" stroke-opacity="0.23"/>
<line x1="1707" y1="1440.4" x2="845.7" y2="1313.6" stroke="#baa2d0" stroke-width="4.0" stroke-opacity="0.34"/>
<line x1="1708.7" y1="1429.9" x2="847.4" y2="1303.1" stroke="#baa2d0" stroke-width="4.4" stroke-opacity="0.34"/>
<line x1="1710.1" y1="1432" x2="1081.7" y2="1371" stroke="#f2b876" stroke-width="4.0" stroke-opacity="0.23"/>
<line x1="1692.9" y1="1431.8" x2="1264.9" y2="651.2" stroke="#f08d91" stroke-width="4.4" stroke-opacity="0.23"/>
<line x1="1699.2" y1="1428.5" x2="1269.9" y2="648.6" stroke="#f08d91" stroke-width="4.4" stroke-opacity="0.23"/>
<line x1="1705.5" y1="1425.3" x2="1278.8" y2="644.1" stroke="#f08d91" stroke-width="4.0" stroke-opacity="0.23"/>
<line x1="1704.5" y1="1442.8" x2="718.7" y2="858.3" stroke="#baa2d0" stroke-width="3.6" stroke-opacity="0.28"/>
<line x1="1727.6" y1="1434.2" x2="706.8" y2="1092" stroke="#f08d91" stroke-width="3.6" stroke-opacity="0.34"/>
<line x1="1729.7" y1="1428.2" x2="708.9" y2="1085.7" stroke="#baa2d0" stroke-width="4.4" stroke-opacity="0.28"/>
<line x1="1712" y1="1418.4" x2="1542.9" y2="1618.9" stroke="#baa2d0" stroke-width="3.6" stroke-opacity="0.34"/>
<line x1="1705.7" y1="1412" x2="1534.3" y2="1610.2" stroke="#f08d91" stroke-width="4.4" stroke-opacity="0.34"/>
<line x1="1691.1" y1="1441.3" x2="1044.8" y2="590.4" stroke="#baa2d0" stroke-width="4.0" stroke-opacity="0.28"/>
<line x1="1698.9" y1="1435.6" x2="1051.2" y2="585.6" stroke="#f08d91" stroke-width="4.0" stroke-opacity="0.28"/>
<line x1="1716.2" y1="1424.6" x2="1434.1" y2="842.6" stroke="#96d296" stroke-width="4.4" stroke-opacity="0.34"/>
<line x1="1699.3" y1="1440.5" x2="607.3" y2="1608" stroke="#baa2d0" stroke-width="3.6" stroke-opacity="0.23"/>
<line x1="1697.7" y1="1430.6" x2="605.3" y2="1595.2" stroke="#f08d91" stroke-width="4.4" stroke-opacity="0.28"/>
<line x1="1696.1" y1="1420.8" x2="603.5" y2="1584.1" stroke="#baa2d0" stroke-width="4.0" stroke-opacity="0.34"/>
<line x1="1717.3" y1="1433" x2="1446.8" y2="1120.7" stroke="#baa2d0" stroke-width="3.6" stroke-opacity="0.23"/>
<line x1="1723.2" y1="1428.5" x2="1450.6" y2="1117.8" stroke="#f08d91" stroke-width="3.6" stroke-opacity="0.28"/>
<line x1="1721.6" y1="1448.3" x2="818.3" y2="198.7" stroke="#baa2d0" stroke-width="3.6" stroke-opacity="0.34"/>
<line x1="1721" y1="1442.8" x2="1066.1" y2="1769.3" stroke="#f08d91" stroke-width="4.0" stroke-opacity="0.23"/>
<line x1="1717.5" y1="1436" x2="1063.2" y2="1763.6" stroke="#f08d91" stroke-width="4.0" stroke-opacity="0.34"/>
<line x1="1718.7" y1="1439.4" x2="819.6" y2="1725.8" stroke="#baa2d0" stroke-width="4.4" stroke-opacity="0.28"/>
<line x1="1716.4" y1="1432.4" x2="817.3" y2="1718.6" stroke="#baa2d0" stroke-width="4.0" stroke-opacity="0.23"/>
<line x1="1711.5" y1="1447.3" x2="330.4" y2="1217.3" stroke="#f08d91" stroke-width="4.4" stroke-opacity="0.23"/>
<line x1="1712.4" y1="1441.3" x2="331.1" y2="1213" stroke="#f08d91" stroke-width="4.4" stroke-opacity="0.28"/>
<line x1="1713.4" y1="1435.4" x2="332.5" y2="1204.2" stroke="#baa2d0" stroke-width="3.6" stroke-opacity="0.34"/>
<line x1="1691.6" y1="1433.9" x2="1310.1" y2="1724.1" stroke="#f08d91" stroke-width="4.4" stroke-opacity="0.23"/>
<line x1="1524.4" y1="1613.9" x2="813" y2="1292.7" stroke="#f08d91" stroke-width="3.6" stroke-opacity="0.28"/>
<line x1="1528" y1="1606" x2="816.2" y2="1285.7" stroke="#96ccd9" stroke-width="4.4" stroke-opacity="0.23"/>
<line x1="1531.6" y1="1598.1" x2="819.8" y2="1277.8" stroke="#f08d91" stroke-width="4.0" stroke-opacity="0.34"/>
<line x1="1538" y1="1598.4" x2="1075.1" y2="1338.6" stroke="#96ccd9" stroke-width="4.4" stroke-opacity="0.28"/>
<line x1="1542.4" y1="1589.8" x2="1079.2" y2="1330.7" stroke="#baa2d0" stroke-width="4.4" stroke-opacity="0.23"/>
<line x1="1535.7" y1="1620.6" x2="1292.5" y2="1308.7" stroke="#baa2d0" stroke-width="4.4" stroke-opacity="0.34"/>
<line x1="1542.2" y1="1615.9" x2="1299.4" y2="1303.7" stroke="#f08d91" stroke-width="4.4" stroke-opacity="0.34"/>
<line x1="1538.1" y1="1624.5" x2="1280.6" y2="651.4" stroke="#baa2d0" stroke-width="3.6" stroke-opacity="0.34"/>
<line x1="1546.7" y1="1622.4" x2="1293.6" y2="648.3" stroke="#baa2d0" stroke-width="3.6" stroke-opacity="0.28"/>
<line x1="1555.3" y1="1620.4" x2="1299.4" y2="646.9" stroke="#baa2d0" stroke-width="4.4" stroke-opacity="0.28"/>
<line x1="1529.1" y1="1622.6" x2="827.5" y2="635.5" stroke="#f08d91" stroke-width="4.0" stroke-opacity="0.28"/>
<line x1="1526.5" y1="1607.3" x2="1422.6" y2="852.2" stroke="#f08d91" stroke-width="4.4" stroke-opacity="0.23"/>
<line x1="1524.6" y1="1604.5" x2="1307.7" y2="1718" stroke="#baa2d0" stroke-width="4.4" stroke-opacity="0.28"/>
<line x1="1549.5" y1="1600.3" x2="815.7" y2="209" stroke="#baa2d0" stroke-width="3.6" stroke-opacity="0.23"/>
<line x1="1551.5" y1="1606.7" x2="694.5" y2="1073.3" stroke="#baa2d0" stroke-width="3.6" stroke-opacity="0.34"/>
<line x1="1518.4" y1="1618.7" x2="1441.6" y2="1092.4" stroke="#f08d91" stroke-width="3.6" stroke-opacity="0.23"/>
<line x1="1516.2" y1="1607.8" x2="659.4" y2="862.2" stroke="#baa2d0" stroke-width="3.6" stroke-opacity="0.28"/>
<line x1="1520.2" y1="1603.3" x2="663.8" y2="857.4" stroke="#baa2d0" stroke-width="4.0" stroke-opacity="0.34"/>
<line x1="1534.1" y1="1622.1" x2="1048.3" y2="562.1" stroke="#baa2d0" stroke-width="4.0" stroke-opacity="0.28"/>
<line x1="1527.7" y1="1601" x2="1079.1" y2="1753.6" stroke="#baa2d0" stroke-width="4.4" stroke-opacity="0.34"/>
<line x1="1522.4" y1="1615" x2="306" y2="727" stroke="#f08d91" stroke-width="4.0" stroke-opacity="0.34"/>
<line x1="1526.4" y1="1609.6" x2="311.4" y2="719.6" stroke="#f08d91" stroke-width="3.6" stroke-opacity="0.28"/>
<line x1="1548.8" y1="1614.9" x2="306.3" y2="1211.5" stroke="#f08d91" stroke-width="3.6" stroke-opacity="0.23"/>
<line x1="1551.9" y1="1605.6" x2="309.9" y2="1200.5" stroke="#f08d91" stroke-width="4.4" stroke-opacity="0.34"/>
<line x1="1521.4" y1="1601.9" x2="591.3" y2="1604" stroke="#f08d91" stroke-width="4.0" stroke-opacity="0.23"/>
<line x1="824.2" y1="217.2" x2="1299" y2="606.5" stroke="#96ccd9" stroke-width="4.0" stroke-opacity="0.34"/>
<line x1="820.1" y1="221.8" x2="1295.6" y2="610.3" stroke="#d9d08e" stroke-width="4.4" stroke-opacity="0.34"/>
<line x1="821.3" y1="223.2" x2="715.4" y2="1089.5" stroke="#a9a9c0" stroke-width="3.6" stroke-opacity="0.23"/>
<line x1="814.6" y1="222.2" x2="710.8" y2="1088.8" stroke="#a9a9c0" stroke-width="4.4" stroke-opacity="0.23"/>
<line x1="823.9" y1="206.6" x2="1428.7" y2="835.8" stroke="#baa2d0" stroke-width="3.6" stroke-opacity="0.34"/>
<line x1="839.9" y1="219.3" x2="670.5" y2="860.8" stroke="#baa2d0" stroke-width="4.0" stroke-opacity="0.23"/>
<line x1="833.6" y1="217.9" x2="666.3" y2="859.9" stroke="#baa2d0" stroke-width="3.6" stroke-opacity="0.28"/>
<line x1="827.3" y1="216.6" x2="662.4" y2="859.1" stroke="#baa2d0" stroke-width="4.4" stroke-opacity="0.34"/>
<line x1="818.1" y1="197.4" x2="1048.2" y2="1387.3" stroke="#baa2d0" stroke-width="3.6" stroke-opacity="0.28"/>
<line x1="838.5" y1="199" x2="839.8" y2="618.2" stroke="#f08d91" stroke-width="3.6" stroke-opacity="0.23"/>
<line x1="828.5" y1="199.2" x2="830.6" y2="618.4" stroke="#96ccd9" stroke-width="3.6" stroke-opacity="0.28"/>
<line x1="841.9" y1="218.9" x2="429.7" y2="1441.9" stroke="#d9d08e" stroke-width="3.6" stroke-opacity="0.34"/>
<line x1="832.2" y1="215.7" x2="417.2" y2="1437.8" stroke="#baa2d0" stroke-width="4.4" stroke-opacity="0.34"/>
<line x1="822.5" y1="212.6" x2="409.8" y2="1435.4" stroke="#d9d08e" stroke-width="4.4" stroke-opacity="0.28"/>
<line x1="834.1" y1="222.1" x2="1331.6" y2="1270.6" stroke="#f2b876" stroke-width="3.6" stroke-opacity="0.34"/>
<line x1="824.7" y1="226.2" x2="1324.8" y2="1273.6" stroke="#f2b876" stroke-width="4.0" stroke-opacity="0.34"/>
<line x1="815.4" y1="230.4" x2="1316.5" y2="1277.3" stroke="#96ccd9" stroke-width="4.0" stroke-opacity="0.34"/>
<line x1="814.1" y1="216.2" x2="862.5" y2="1279.8" stroke="#baa2d0" stroke-width="4.0" stroke-opacity="0.23"/>
<line x1="805.2" y1="216.3" x2="851.6" y2="1279.9" stroke="#baa2d0" stroke-width="3.6" stroke-opacity="0.28"/>
<line x1="811.8" y1="199.8" x2="309.9" y2="1222.9" stroke="#baa2d0" stroke-width="4.0" stroke-opacity="0.28"/>
<line x1="1050.8" y1="1759.7" x2="1448.5" y2="854.1" stroke="#baa2d0" stroke-width="4.4" stroke-opacity="0.34"/>
<line x1="1059.4" y1="1763.3" x2="1461.3" y2="859.4" stroke="#f08d91" stroke-width="4.0" stroke-opacity="0.34"/>
<line x1="1068.1" y1="1766.9" x2="1470.1" y2="863.1" stroke="#baa2d0" stroke-width="4.0" stroke-opacity="0.28"/>
<line x1="1050.1" y1="1768" x2="682.7" y2="1106.3" stroke="#96ccd9" stroke-width="4.4" stroke-opacity="0.23"/>
<line x1="1055.4" y1="1765" x2="688.9" y2="1102.8" stroke="#96ccd9" stroke-width="4.4" stroke-opacity="0.23"/>
<line x1="1080.7" y1="1752.8" x2="1065.3" y2="600.7" stroke="#baa2d0" stroke-width="4.0" stroke-opacity="0.34"/>
<line x1="1087.5" y1="1752.8" x2="1072.7" y2="600.7" stroke="#f08d91" stroke-width="4.0" stroke-opacity="0.34"/>
<line x1="1064.2" y1="1777.5" x2="847.5" y2="655.5" stroke="#baa2d0" stroke-width="4.4" stroke-opacity="0.28"/>
<line x1="1061.6" y1="1761.7" x2="1463" y2="1119.6" stroke="#f08d91" stroke-width="4.0" stroke-opacity="0.34"/>
<line x1="1069" y1="1775.5" x2="1294.4" y2="654.2" stroke="#baa2d0" stroke-width="4.0" stroke-opacity="0.28"/>
<line x1="1076.6" y1="1777.1" x2="1302.9" y2="656" stroke="#baa2d0" stroke-width="4.4" stroke-opacity="0.28"/>
<line x1="1057.5" y1="1748.6" x2="1081.6" y2="1365.8" stroke="#96ccd9" stroke-width="3.6" stroke-opacity="0.28"/>
<line x1="1066.3" y1="1748.6" x2="1092.1" y2="1365.8" stroke="#96ccd9" stroke-width="4.0" stroke-opacity="0.34"/>
<line x1="1080.2" y1="1763.4" x2="676.4" y2="873.8" stroke="#f08d91" stroke-width="3.6" stroke-opacity="0.34"/>
<line x1="1065.5" y1="1753.7" x2="1326.6" y2="1304.5" stroke="#f08d91" stroke-width="4.0" stroke-opacity="0.34"/>
<line x1="1071.5" y1="1756.7" x2="1332.5" y2="1307.4" stroke="#f08d91" stroke-width="4.4" stroke-opacity="0.23"/>
<line x1="1057" y1="1757.8" x2="1800.4" y2="729.8" stroke="#baa2d0" stroke-width="3.6" stroke-opacity="0.23"/>
<line x1="1065.1" y1="1763.6" x2="1811.2" y2="737.6" stroke="#baa2d0" stroke-width="3.6" stroke-opacity="0.34"/>
<line x1="1073.1" y1="1769.5" x2="1817.5" y2="742.2" stroke="#baa2d0" stroke-width="4.4" stroke-opacity="0.34"/>
<line x1="1078.7" y1="1757.3" x2="300.8" y2="1206.8" stroke="#f08d91" stroke-width="4.4" stroke-opacity="0.34"/>
<line x1="1082.4" y1="1752.2" x2="305" y2="1201" stroke="#f08d91" stroke-width="3.6" stroke-opacity="0.28"/>
<line x1="1485" y1="350" x2="1484" y2="800" stroke="#f08d91" stroke-width="4" stroke-opacity="0.7"/>
<line x1="1502" y1="350" x2="1501" y2="800" stroke="#f08d91" stroke-width="4" stroke-opacity="0.7"/>
<line x1="1512.2" y1="334.3" x2="419" y2="490.6" stroke="#a9a9c0" stroke-width="3.2" stroke-opacity="0.36"/>
<line x1="1539.7" y1="301.3" x2="840" y2="1706" stroke="#a9a9c0" stroke-width="3.2" stroke-opacity="0.36"/>
<line x1="1561.4" y1="348.6" x2="1307.3" y2="604.4" stroke="#baa2d0" stroke-width="3.0" stroke-opacity="0.32"/>
<line x1="1313.4" y1="209.5" x2="1309" y2="1723.4" stroke="#a9a9c0" stroke-width="3.2" stroke-opacity="0.36"/>
<line x1="1700" y1="462" x2="690" y2="1070" stroke="#f08d91" stroke-width="4" stroke-opacity="0.6"/>
<line x1="1704" y1="474" x2="690" y2="1084" stroke="#f08d91" stroke-width="4" stroke-opacity="0.6"/>
<line x1="1727.4" y1="506.5" x2="309.7" y2="721.8" stroke="#baa2d0" stroke-width="3.2" stroke-opacity="0.36"/>
<line x1="1716.6" y1="477.8" x2="292.1" y2="719.9" stroke="#baa2d0" stroke-width="3.2" stroke-opacity="0.36"/>
<line x1="1680.2" y1="496" x2="701.5" y2="859.3" stroke="#baa2d0" stroke-width="3.2" stroke-opacity="0.36"/>
<line x1="1705.9" y1="487" x2="298.3" y2="1206.8" stroke="#baa2d0" stroke-width="3.2" stroke-opacity="0.36"/>
<line x1="1805.6" y1="698.1" x2="836.3" y2="211.9" stroke="#baa2d0" stroke-width="3.4" stroke-opacity="0.27"/>
<line x1="1817.4" y1="698.3" x2="834.5" y2="194.9" stroke="#baa2d0" stroke-width="3.4" stroke-opacity="0.27"/>
<line x1="1851.5" y1="969" x2="1475.7" y2="856.1" stroke="#f08d91" stroke-width="3.4" stroke-opacity="0.44"/>
<line x1="1869.5" y1="949.3" x2="1472.3" y2="856.1" stroke="#f08d91" stroke-width="3.4" stroke-opacity="0.44"/>
<line x1="1870.3" y1="949.5" x2="675.3" y2="1063.7" stroke="#f08d91" stroke-width="3.2" stroke-opacity="0.36"/>
<line x1="1846.7" y1="933.5" x2="1042.5" y2="1356.3" stroke="#baa2d0" stroke-width="3.2" stroke-opacity="0.32"/>
<line x1="1857.5" y1="937.7" x2="1090.7" y2="1365.6" stroke="#baa2d0" stroke-width="3.2" stroke-opacity="0.32"/>
<line x1="1882.2" y1="964.9" x2="1086.6" y2="1740.1" stroke="#baa2d0" stroke-width="3.2" stroke-opacity="0.32"/>
<line x1="1832.4" y1="971.2" x2="1305" y2="1268" stroke="#d9d08e" stroke-width="3.2" stroke-opacity="0.32"/>
<line x1="1849.9" y1="1226.4" x2="681.8" y2="861.2" stroke="#f08d91" stroke-width="3.4" stroke-opacity="0.4"/>
<line x1="1814.1" y1="1233.4" x2="693.7" y2="832.9" stroke="#f08d91" stroke-width="3.4" stroke-opacity="0.4"/>
<line x1="1841.5" y1="1209.6" x2="689.6" y2="808.3" stroke="#f08d91" stroke-width="3.4" stroke-opacity="0.4"/>
<line x1="1810" y1="1220.6" x2="863.4" y2="640.7" stroke="#f08d91" stroke-width="3.4" stroke-opacity="0.36"/>
<line x1="1831.5" y1="1192" x2="666.3" y2="1123.1" stroke="#f08d91" stroke-width="3.4" stroke-opacity="0.36"/>
<line x1="1814" y1="1185.1" x2="1311.7" y2="612" stroke="#baa2d0" stroke-width="3.2" stroke-opacity="0.32"/>
<line x1="1801.6" y1="1209.1" x2="1075.3" y2="576.2" stroke="#baa2d0" stroke-width="3.2" stroke-opacity="0.32"/>
<line x1="322" y1="719.1" x2="300.1" y2="1219.8" stroke="#a9a9c0" stroke-width="3.2" stroke-opacity="0.4"/>
<line x1="299.8" y1="720.1" x2="311.6" y2="1218" stroke="#a9a9c0" stroke-width="3.2" stroke-opacity="0.4"/>
<line x1="280.4" y1="961.5" x2="317.9" y2="1215.8" stroke="#baa2d0" stroke-width="3.2" stroke-opacity="0.36"/>
<line x1="274.7" y1="947.3" x2="865.3" y2="649.9" stroke="#f08d91" stroke-width="3.2" stroke-opacity="0.36"/>
<line x1="270.4" y1="982.1" x2="858.5" y2="652.7" stroke="#f08d91" stroke-width="3.2" stroke-opacity="0.36"/>
<line x1="285.5" y1="989.8" x2="843.7" y2="1324.8" stroke="#baa2d0" stroke-width="3.2" stroke-opacity="0.32"/>
<line x1="263.4" y1="947.9" x2="849.4" y2="1266.2" stroke="#baa2d0" stroke-width="3.2" stroke-opacity="0.32"/>
<line x1="292.8" y1="948.4" x2="1305.3" y2="610.4" stroke="#f08d91" stroke-width="3.2" stroke-opacity="0.32"/>
<line x1="618.6" y1="1630.7" x2="715" y2="1095.1" stroke="#f08d91" stroke-width="3.4" stroke-opacity="0.44"/>
<line x1="620.5" y1="1609.4" x2="696.4" y2="1098.2" stroke="#f08d91" stroke-width="3.4" stroke-opacity="0.44"/>
<line x1="578.3" y1="1611.8" x2="670.1" y2="1082.4" stroke="#f08d91" stroke-width="3.4" stroke-opacity="0.44"/>
<line x1="619.9" y1="1607" x2="656.6" y2="854.6" stroke="#f08d91" stroke-width="3.4" stroke-opacity="0.36"/>
<line x1="586.7" y1="1605.4" x2="690.5" y2="830.8" stroke="#f08d91" stroke-width="3.4" stroke-opacity="0.36"/>
<line x1="580.5" y1="1621.9" x2="842.3" y2="229.7" stroke="#96ccd9" stroke-width="3.2" stroke-opacity="0.36"/>
<line x1="406" y1="1426.4" x2="1057.4" y2="1775.7" stroke="#baa2d0" stroke-width="3.2" stroke-opacity="0.36"/>
<line x1="408.5" y1="1439.3" x2="1046.8" y2="1771.8" stroke="#baa2d0" stroke-width="3.2" stroke-opacity="0.36"/>
<line x1="432.8" y1="1434.6" x2="1310.9" y2="1717" stroke="#baa2d0" stroke-width="3.2" stroke-opacity="0.36"/>
<line x1="433.5" y1="1441.5" x2="1336.2" y2="1734.9" stroke="#baa2d0" stroke-width="3.2" stroke-opacity="0.36"/>
<line x1="621.3" y1="1621.2" x2="843.1" y2="1718.3" stroke="#d9d08e" stroke-width="3.2" stroke-opacity="0.36"/>
<line x1="623.6" y1="1591.7" x2="848.3" y2="1718.9" stroke="#a9a9c0" stroke-width="3.2" stroke-opacity="0.36"/>
<line x1="835.1" y1="1708.4" x2="1057.3" y2="1752.5" stroke="#96ccd9" stroke-width="3.2" stroke-opacity="0.36"/>
<line x1="813.9" y1="1699.6" x2="1065.3" y2="1788" stroke="#96ccd9" stroke-width="3.2" stroke-opacity="0.36"/>
<line x1="832.2" y1="1746.1" x2="1549.4" y2="1628.7" stroke="#f08d91" stroke-width="3.2" stroke-opacity="0.36"/>
<line x1="811.1" y1="1708.2" x2="1529.1" y2="1581.6" stroke="#f08d91" stroke-width="3.2" stroke-opacity="0.36"/>
<line x1="1053.4" y1="1782.7" x2="1558.5" y2="1599.4" stroke="#f08d91" stroke-width="3.2" stroke-opacity="0.36"/>
<line x1="1083.7" y1="1776.4" x2="1556.7" y2="1626.3" stroke="#f08d91" stroke-width="3.2" stroke-opacity="0.36"/>
<line x1="1315.1" y1="1700.4" x2="1553" y2="1598.5" stroke="#baa2d0" stroke-width="3.2" stroke-opacity="0.36"/>
<line x1="1320.3" y1="1714.8" x2="1536.4" y2="1636.2" stroke="#baa2d0" stroke-width="3.2" stroke-opacity="0.36"/>
<line x1="409.4" y1="501.3" x2="1080.5" y2="175.3" stroke="#a9a9c0" stroke-width="3.2" stroke-opacity="0.36"/>
<line x1="450.9" y1="494.7" x2="1346.4" y2="226.3" stroke="#f08d91" stroke-width="3.4" stroke-opacity="0.36"/>
<line x1="412.2" y1="488.3" x2="1294.1" y2="228.3" stroke="#f08d91" stroke-width="3.4" stroke-opacity="0.36"/>
<line x1="424.2" y1="509.6" x2="1328.6" y2="230.8" stroke="#f08d91" stroke-width="3.4" stroke-opacity="0.36"/>
<line x1="441" y1="486.2" x2="833.9" y2="195.6" stroke="#baa2d0" stroke-width="3.2" stroke-opacity="0.36"/>
<line x1="435.2" y1="504.5" x2="832" y2="216.3" stroke="#baa2d0" stroke-width="3.2" stroke-opacity="0.36"/>
<line x1="325.4" y1="710.7" x2="1312.8" y2="248.6" stroke="#f08d91" stroke-width="3.4" stroke-opacity="0.36"/>
<line x1="325" y1="709" x2="1334.9" y2="185.3" stroke="#f08d91" stroke-width="3.4" stroke-opacity="0.36"/>
<line x1="293.6" y1="710.6" x2="1306" y2="226.2" stroke="#f08d91" stroke-width="3.4" stroke-opacity="0.36"/>
<line x1="312" y1="733.3" x2="1300.7" y2="237.7" stroke="#f08d91" stroke-width="3.4" stroke-opacity="0.36"/>
<line x1="300.4" y1="740.1" x2="1092.7" y2="185.9" stroke="#f08d91" stroke-width="3.4" stroke-opacity="0.36"/>
<line x1="296.7" y1="729.6" x2="1075.5" y2="185.1" stroke="#f08d91" stroke-width="3.4" stroke-opacity="0.36"/>
<line x1="297.9" y1="702.1" x2="817.4" y2="219.2" stroke="#baa2d0" stroke-width="3.2" stroke-opacity="0.36"/>
<line x1="318.7" y1="706.4" x2="848.4" y2="203.8" stroke="#baa2d0" stroke-width="3.2" stroke-opacity="0.36"/>
<line x1="614.7" y1="304.6" x2="1327.4" y2="622.1" stroke="#baa2d0" stroke-width="3.2" stroke-opacity="0.36"/>
<line x1="595.7" y1="325.1" x2="1273.3" y2="621.8" stroke="#baa2d0" stroke-width="3.2" stroke-opacity="0.36"/>
<line x1="618.6" y1="312.5" x2="1440.6" y2="863.8" stroke="#baa2d0" stroke-width="3.2" stroke-opacity="0.36"/>
<line x1="588.1" y1="307.6" x2="1427.7" y2="833.3" stroke="#baa2d0" stroke-width="3.2" stroke-opacity="0.36"/>
<line x1="307.7" y1="1219.7" x2="1311.1" y2="240.7" stroke="#f08d91" stroke-width="3.4" stroke-opacity="0.36"/>
<line x1="290.8" y1="1220.9" x2="1340.2" y2="189.9" stroke="#f08d91" stroke-width="3.4" stroke-opacity="0.36"/>
<line x1="289.6" y1="1208.8" x2="1037.8" y2="169" stroke="#f08d91" stroke-width="3.4" stroke-opacity="0.36"/>
<line x1="326.4" y1="1190.2" x2="1037.9" y2="170.6" stroke="#f08d91" stroke-width="3.4" stroke-opacity="0.36"/>
<line x1="1287.2" y1="189.5" x2="827.8" y2="611.4" stroke="#f2b876" stroke-width="3.4" stroke-opacity="0.4"/>
<line x1="1278.8" y1="200" x2="830.2" y2="676.9" stroke="#f2b876" stroke-width="3.4" stroke-opacity="0.4"/>
<line x1="1317.7" y1="176.8" x2="810.4" y2="661.5" stroke="#f08d91" stroke-width="3.4" stroke-opacity="0.4"/>
<line x1="1318.4" y1="240.7" x2="834.6" y2="621.1" stroke="#f08d91" stroke-width="3.4" stroke-opacity="0.4"/>
</g>
<g id="nodes">
<circle cx="1068.5" cy="172.2" r="101.5" fill="#515252"/>
<circle cx="1313.3" cy="211.1" r="101" fill="#515252"/>
<circle cx="1534.2" cy="323.9" r="99.5" fill="#515252"/>
<circle cx="1709.5" cy="499.7" r="85" fill="#515252"/>
<circle cx="1822" cy="721.1" r="68.5" fill="#515252"/>
<circle cx="1860.8" cy="966.6" r="66" fill="#515252"/>
<circle cx="1822" cy="1212.1" r="62" fill="#515252"/>
<circle cx="1709.5" cy="1433.5" r="56" fill="#515252"/>
<circle cx="1534.2" cy="1609.3" r="52.5" fill="#515252"/>
<circle cx="1313.3" cy="1722.1" r="50" fill="#515252"/>
<circle cx="1068.5" cy="1761" r="51" fill="#515252"/>
<circle cx="823.7" cy="1722.1" r="50.5" fill="#515252"/>
<circle cx="602.8" cy="1609.3" r="50" fill="#515252"/>
<circle cx="427.5" cy="1433.5" r="49" fill="#515252"/>
<circle cx="315" cy="1212.1" r="49" fill="#515252"/>
<circle cx="276.2" cy="966.6" r="49" fill="#515252"/>
<circle cx="315" cy="721.1" r="48.5" fill="#515252"/>
<circle cx="427.5" cy="499.7" r="48.5" fill="#515252"/>
<circle cx="602.8" cy="323.9" r="48.5" fill="#515252"/>
<circle cx="823.7" cy="211.1" r="48.5" fill="#515252"/>
<circle cx="1068.5" cy="565.3" r="101.5" fill="#515252"/>
<circle cx="1068.5" cy="565.3" r="92.5" fill="url(#hatch)"/>
<circle cx="1304.4" cy="641.9" r="101.5" fill="#515252"/>
<circle cx="1304.4" cy="641.9" r="92.5" fill="url(#hatch)"/>
<circle cx="1450.2" cy="842.6" r="101.5" fill="#515252"/>
<circle cx="1450.2" cy="842.6" r="92.5" fill="url(#hatch)"/>
<circle cx="1450.2" cy="1090.6" r="101.5" fill="#515252"/>
<circle cx="1450.2" cy="1090.6" r="92.5" fill="url(#hatch)"/>
<circle cx="1304.4" cy="1291.3" r="101.5" fill="#515252"/>
<circle cx="1304.4" cy="1291.3" r="92.5" fill="url(#hatch)"/>
<circle cx="1068.5" cy="1367.9" r="101.5" fill="#515252"/>
<circle cx="1068.5" cy="1367.9" r="92.5" fill="url(#hatch)"/>
<circle cx="832.6" cy="1291.3" r="101.5" fill="#515252"/>
<circle cx="832.6" cy="1291.3" r="92.5" fill="url(#hatch)"/>
<circle cx="686.8" cy="1090.6" r="101.5" fill="#515252"/>
<circle cx="686.8" cy="1090.6" r="92.5" fill="url(#hatch)"/>
<circle cx="686.8" cy="842.6" r="101.5" fill="#515252"/>
<circle cx="686.8" cy="842.6" r="92.5" fill="url(#hatch)"/>
<circle cx="832.6" cy="641.9" r="101.5" fill="#515252"/>
<circle cx="832.6" cy="641.9" r="92.5" fill="url(#hatch)"/>
</g>
<g id="nodelabels">
<text class="nl" transform="translate(1068.5 184.8) scale(0.975 1)">CD63</text>
<text class="nl" transform="translate(1313.3 223.7) scale(0.975 1)">FBN2</text>
<text class="nl" transform="translate(1534.2 336.5) scale(0.975 1)">GAST</text>
<text class="nl" transform="translate(1709.5 512.3) scale(0.975 1)">CLSTN3</text>
<text class="nlo" transform="translate(1822 733.7) scale(0.975 1)">HP</text>
<text class="nlo" transform="translate(1860.8 979.2) scale(0.975 1)">HFE</text>
<text class="nlo" transform="translate(1822 1224.7) scale(0.975 1)">CD79A</text>
<text class="nlo" transform="translate(1709.5 1446.1) scale(0.975 1)">COL1A1</text>
<text class="nlo" transform="translate(1534.2 1621.9) scale(0.975 1)">FGB</text>
<text class="nlo" transform="translate(1313.3 1734.7) scale(0.975 1)">CFHR3</text>
<text class="nlo" transform="translate(1068.5 1773.6) scale(0.975 1)">CFI</text>
<text class="nlo" transform="translate(823.7 1734.7) scale(0.975 1)">F13B</text>
<text class="nlo" transform="translate(602.8 1621.9) scale(0.975 1)">LDLR</text>
<text class="nlo" transform="translate(427.5 1446.1) scale(0.975 1)">CFHR4</text>
<text class="nlo" transform="translate(315 1224.7) scale(0.975 1)">CCN2</text>
<text class="nlo" transform="translate(276.2 979.2) scale(0.975 1)">SCGB1A1</text>
<text class="nlo" transform="translate(315 733.7) scale(0.975 1)">MFAP2</text>
<text class="nlo" transform="translate(427.5 512.3) scale(0.975 1)">MMP9</text>
<text class="nlo" transform="translate(602.8 336.5) scale(0.975 1)">TYRP1</text>
<text class="nlo" transform="translate(823.7 223.7) scale(0.975 1)">APOC1</text>
<text class="nli" transform="translate(1068.5 577.9) scale(0.975 1)">PENK</text>
<text class="nli" transform="translate(1304.4 654.5) scale(0.975 1)">C3</text>
<text class="nli" transform="translate(1450.2 855.2) scale(0.975 1)">TF</text>
<text class="nli" transform="translate(1450.2 1103.2) scale(0.975 1)">CKAP4</text>
<text class="nli" transform="translate(1304.4 1303.9) scale(0.975 1)">GPC3</text>
<text class="nli" transform="translate(1068.5 1380.5) scale(0.975 1)">FGG</text>
<text class="nli" transform="translate(832.6 1303.9) scale(0.975 1)">TIMP1</text>
<text class="nli" transform="translate(686.8 1103.2) scale(0.975 1)">APOE</text>
<text class="nli" transform="translate(686.8 855.2) scale(0.975 1)">FN1</text>
<text class="nli" transform="translate(832.6 654.5) scale(0.975 1)">FBN1</text>
</g>
</g>
<g id="panelB">
<text class="pl" transform="translate(81.5 1792) scale(0.934 1)" style="font-size:78.2px">B</text>
<rect x="80" y="1853" width="1453" height="1014" fill="#fff"/>
<line class="grid" x1="240.8" y1="1853" x2="240.8" y2="2867"/>
<line class="grid" x1="401.6" y1="1853" x2="401.6" y2="2867"/>
<line class="grid" x1="562.4" y1="1853" x2="562.4" y2="2867"/>
<line class="grid" x1="884" y1="1853" x2="884" y2="2867"/>
<rect class="bar" x="80" y="1886.6" width="1384.6" height="43" fill="#ee5f06"/>
<rect class="bar" x="80" y="1939.8" width="940" height="43" fill="#ee5f06"/>
<rect class="bar" x="80" y="1993.1" width="886" height="43" fill="#ee5f06"/>
<rect class="bar" x="80" y="2046.3" width="749" height="43" fill="#fe9727"/>
<rect class="bar" x="80" y="2099.6" width="740" height="43" fill="#fe9727"/>
<rect class="bar" x="80" y="2152.8" width="707" height="43" fill="#fe9727"/>
<rect class="bar" x="80" y="2206.1" width="669.5" height="43" fill="#fe9727"/>
<rect class="bar" x="80" y="2259.3" width="506" height="43" fill="#fe9727"/>
<rect class="bar" x="80" y="2312.6" width="497" height="43" fill="#fe9727"/>
<rect class="bar" x="80" y="2365.8" width="491" height="43" fill="#fe9727"/>
<rect class="bar" x="80" y="2419.1" width="463.5" height="43" fill="#febf4e"/>
<rect class="bar" x="80" y="2472.3" width="463.5" height="43" fill="#febf4e"/>
<rect class="bar" x="80" y="2525.6" width="451" height="43" fill="#febf4e"/>
<rect class="bar" x="80" y="2578.8" width="424" height="43" fill="#febf4e"/>
<rect class="bar" x="80" y="2632.1" width="320" height="43" fill="#fee196"/>
<rect class="bar" x="80" y="2685.3" width="261" height="43" fill="#fee196"/>
<rect class="bar" x="80" y="2738.6" width="231.6" height="43" fill="#fff6c4"/>
<rect class="bar" x="80" y="2791.8" width="219.6" height="43" fill="#fff6c4"/>
<rect class="frame" x="80" y="1853" width="1453" height="1014"/>
<line class="tick" x1="80" y1="2867" x2="80" y2="2883"/>
<text class="tk" x="80" y="2931">0.0</text>
<line class="tick" x1="281" y1="2867" x2="281" y2="2883"/>
<text class="tk" x="281" y="2931">2.5</text>
<line class="tick" x1="482" y1="2867" x2="482" y2="2883"/>
<text class="tk" x="482" y="2931">5.0</text>
<line class="tick" x1="683" y1="2867" x2="683" y2="2883"/>
<text class="tk" x="683" y="2931">7.5</text>
<line class="tick" x1="884" y1="2867" x2="884" y2="2883"/>
<text class="tk" x="884" y="2931">10.0</text>
<line class="tick" x1="1085" y1="2867" x2="1085" y2="2883"/>
<text class="tk" x="1085" y="2931">12.5</text>
<line class="tick" x1="1286" y1="2867" x2="1286" y2="2883"/>
<text class="tk" x="1286" y="2931">15.0</text>
<line class="tick" x1="1487" y1="2867" x2="1487" y2="2883"/>
<text class="tk" x="1487" y="2931">17.5</text>
<text class="ax" x="810" y="2992">-log10(P)</text>
<text class="lb" x="1548" y="1924.5" xml:space="preserve">Post-translational protein phosphorylation</text>
<text class="lb" x="1548" y="1977.8" xml:space="preserve">Complement and coagulation cascades</text>
<text class="lb" x="1548" y="2031.1" xml:space="preserve">Extracellular matrix organization</text>
<text class="lb" x="1548" y="2084.5" xml:space="preserve">positive regulation of endocytosis</text>
<text class="lb" x="1548" y="2137.8" xml:space="preserve">PID INTEGRIN3 PATHWAY</text>
<text class="lb" x="1548" y="2191.1" xml:space="preserve">response to inorganic substance</text>
<text class="lb" x="1548" y="2244.4" xml:space="preserve">Degradation of the extracellular matrix</text>
<text class="lb" x="1548" y="2297.7" xml:space="preserve">regulation of proteolysis</text>
<text class="lb" x="1548" y="2351.1" xml:space="preserve">response to reactive oxygen species</text>
<text class="lb" x="1548" y="2404.4" xml:space="preserve"> negative regulation of catalytic activity</text>
<text class="lb" x="1548" y="2457.7" xml:space="preserve">Proteoglycans in cancer</text>
<text class="lb" x="1548" y="2511" xml:space="preserve">plasma lipoprotein particle clearance</text>
<text class="lb" x="1548" y="2564.3" xml:space="preserve">negative regulation of cell activation</text>
<text class="lb" x="1548" y="2617.7" xml:space="preserve">response to nutrient levels</text>
<text class="lb" x="1548" y="2671" xml:space="preserve"> Neutrophil degranulation</text>
<text class="lb" x="1548" y="2724.3" xml:space="preserve">cell population proliferation</text>
<text class="lb" x="1548" y="2777.6" xml:space="preserve">cell junction organization</text>
<text class="lb" x="1548" y="2830.9" xml:space="preserve">inflammatory response</text>
</g>
<g id="panelC">
<text class="pl" transform="translate(77.8 3076.5) scale(0.925 1)" style="font-size:72.1px">C</text>
<rect x="86" y="3097" width="1447" height="1105" fill="#fff"/>
<line class="grid" x1="267" y1="3097" x2="267" y2="4202"/>
<line class="grid" x1="448" y1="3097" x2="448" y2="4202"/>
<line class="grid" x1="629" y1="3097" x2="629" y2="4202"/>
<line class="grid" x1="991" y1="3097" x2="991" y2="4202"/>
<rect class="bar" x="86" y="3128.6" width="1378.6" height="43" fill="#ee5f06"/>
<rect class="bar" x="86" y="3181.2" width="1195" height="43" fill="#ee5f06"/>
<rect class="bar" x="86" y="3233.8" width="1133" height="43" fill="#ee5f06"/>
<rect class="bar" x="86" y="3286.4" width="1127" height="43" fill="#ee5f06"/>
<rect class="bar" x="86" y="3339" width="1086" height="43" fill="#ee5f06"/>
<rect class="bar" x="86" y="3391.6" width="1054" height="43" fill="#ee5f06"/>
<rect class="bar" x="86" y="3444.2" width="950" height="43" fill="#ee5f06"/>
<rect class="bar" x="86" y="3496.8" width="947.6" height="43" fill="#ee5f06"/>
<rect class="bar" x="86" y="3549.4" width="908" height="43" fill="#ee5f06"/>
<rect class="bar" x="86" y="3602" width="890" height="43" fill="#fe9727"/>
<rect class="bar" x="86" y="3654.6" width="886.7" height="43" fill="#fe9727"/>
<rect class="bar" x="86" y="3707.2" width="872" height="43" fill="#fe9727"/>
<rect class="bar" x="86" y="3759.8" width="871" height="43" fill="#fe9727"/>
<rect class="bar" x="86" y="3812.4" width="870.4" height="43" fill="#fe9727"/>
<rect class="bar" x="86" y="3865" width="868.7" height="43" fill="#fe9727"/>
<rect class="bar" x="86" y="3917.6" width="852.4" height="43" fill="#fe9727"/>
<rect class="bar" x="86" y="3970.2" width="849.8" height="43" fill="#fe9727"/>
<rect class="bar" x="86" y="4022.8" width="841" height="43" fill="#fe9727"/>
<rect class="bar" x="86" y="4075.4" width="839.5" height="43" fill="#fe9727"/>
<rect class="bar" x="86" y="4128" width="837.8" height="43" fill="#fe9727"/>
<rect class="frame" x="86" y="3097" width="1447" height="1105"/>
<line class="tick" x1="86" y1="4202" x2="86" y2="4218"/>
<text class="tk" x="86" y="4264">0</text>
<line class="tick" x1="267" y1="4202" x2="267" y2="4218"/>
<text class="tk" x="267" y="4264">2</text>
<line class="tick" x1="448" y1="4202" x2="448" y2="4218"/>
<text class="tk" x="448" y="4264">4</text>
<line class="tick" x1="629" y1="4202" x2="629" y2="4218"/>
<text class="tk" x="629" y="4264">6</text>
<line class="tick" x1="810" y1="4202" x2="810" y2="4218"/>
<text class="tk" x="810" y="4264">8</text>
<line class="tick" x1="991" y1="4202" x2="991" y2="4218"/>
<text class="tk" x="991" y="4264">10</text>
<line class="tick" x1="1172" y1="4202" x2="1172" y2="4218"/>
<text class="tk" x="1172" y="4264">12</text>
<line class="tick" x1="1353" y1="4202" x2="1353" y2="4218"/>
<text class="tk" x="1353" y="4264">14</text>
<text class="ax" x="814" y="4325">-log10(P)</text>
<text class="lc" x="1573" y="3124" xml:space="preserve">Chronic kidney disease stage 5</text>
<text class="lc" x="1573" y="3182.2" xml:space="preserve">Glomerulonephritis</text>
<text class="lc" x="1573" y="3240.4" xml:space="preserve">Cerebral Hemorrhage</text>
<text class="lc" x="1573" y="3298.7" xml:space="preserve">IGA Glomerulonephritis</text>
<text class="lc" x="1573" y="3356.9" xml:space="preserve">Age related macular degeneration</text>
<text class="lc" x="1573" y="3415.1" xml:space="preserve">Glaucoma, Primary Open Angle</text>
<text class="lc" x="1573" y="3473.3" xml:space="preserve">Amyloidosis</text>
<text class="lc" x="1573" y="3531.5" xml:space="preserve">Lupus Nephritis</text>
<text class="lc" x="1573" y="3589.8" xml:space="preserve">Acute myocardial infarction</text>
<text class="lc" x="1573" y="3648" xml:space="preserve">Bicuspid aortic valve</text>
<text class="lc" x="1573" y="3706.2" xml:space="preserve">Alcohol abuse</text>
<text class="lc" x="1573" y="3764.4" xml:space="preserve">Aortic Aneurysm</text>
<text class="lc" x="1573" y="3822.6" xml:space="preserve">Geographic Atrophy</text>
<text class="lc" x="1573" y="3880.9" xml:space="preserve">Renal Insufficiency</text>
<text class="lc" x="1573" y="3939.1" xml:space="preserve">Focal glomerulosclerosis</text>
<text class="lc" x="1573" y="3997.3" xml:space="preserve">Dilatation of aorta</text>
<text class="lc" x="1573" y="4055.5" xml:space="preserve">Hemochromatosis</text>
<text class="lc" x="1573" y="4113.7" xml:space="preserve">Inflammation</text>
<text class="lc" x="1573" y="4172" xml:space="preserve">Acute kidney injury</text>
<text class="lc" x="1573" y="4230.2" xml:space="preserve">Hyperlipidemia</text>
</g>
</svg>
</div>
</body>
</html>
